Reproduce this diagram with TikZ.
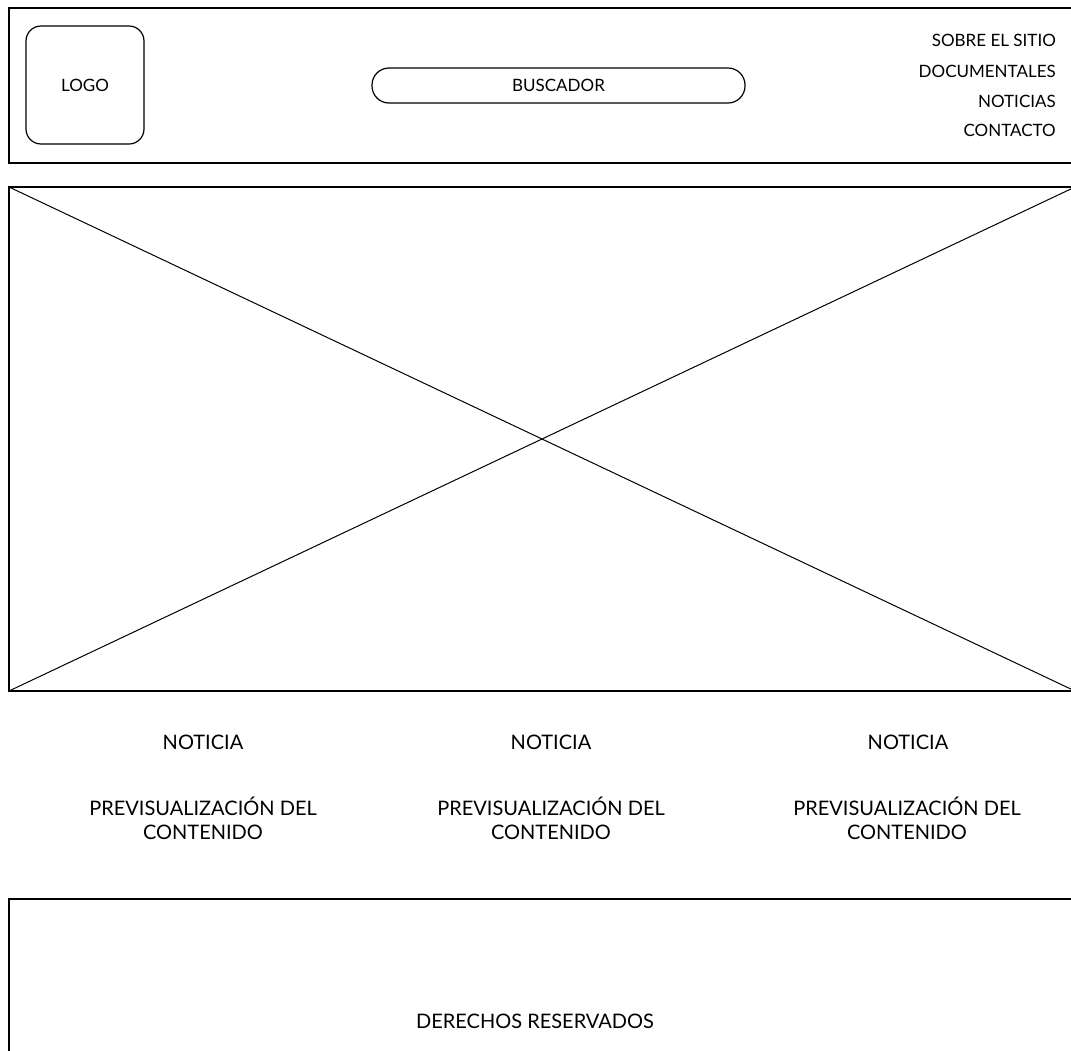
\documentclass[tikz,border=0pt]{standalone}
\usepackage{fontspec}
\setmainfont{Lato}
\usepackage{tikz}
\usetikzlibrary{positioning}

\begin{document}
\begin{tikzpicture}[x=1pt,y=-1pt]
        \useasboundingbox (0,0) rectangle (1071,1050);
        \begin{scope}[
            every node/.style={draw,line width=1.2pt,inner sep=0pt,outer sep=0pt,anchor=north west}
        ]
            \node[minimum width=1066pt,minimum height=155pt] (header) at (9,8) {};
            \node[minimum width=1066pt,minimum height=504pt] (hero) at (9,187) {};
            \node[minimum width=1066pt,minimum height=165pt] (footer) at (9,899) {};

            \node[rounded corners=15pt,minimum width=118pt,minimum height=118pt,font=\fontsize{17}{20}\selectfont] (logo) at (26,26) {LOGO};
            \node[rounded corners=17pt,minimum width=373pt,minimum height=35pt,font=\fontsize{17}{20}\selectfont] (buscador) at (372,68) {BUSCADOR};
        \end{scope}
        \begin{scope}[
            every node/.style={anchor=east,inner sep=0pt,font=\fontsize{17}{20}\selectfont}
        ]
            \node (sitio) at (1056,40) {SOBRE EL SITIO};
            \node (docs) at (1056,71) {DOCUMENTALES};
            \node (noticias) at (1056,101) {NOTICIAS};
            \node (contacto) at (1056,130) {CONTACTO};
        \end{scope}
        \begin{scope}[
            every node/.style={align=center,inner sep=0pt,font=\fontsize{20}{24}\selectfont}
        ]
            \node (n1) at (203,742) {NOTICIA};
            \node (n2) at (551,742) {NOTICIA};
            \node (n3) at (908,742) {NOTICIA};

            \node (p1) at (203,818) {PREVISUALIZACIÓN DEL\\CONTENIDO};
            \node (p2) at (551,818) {PREVISUALIZACIÓN DEL\\CONTENIDO};
            \node (p3) at (907,818) {PREVISUALIZACIÓN DEL\\CONTENIDO};

            \node (derechos) at (535,1021) {DERECHOS RESERVADOS};
        \end{scope}
        \begin{scope}[
            every edge/.style={draw=black,line width=1pt}
        ]
            \path [-] (hero.north west) edge (hero.south east);
            \path [-] (hero.south west) edge (hero.north east);
        \end{scope}
    \end{tikzpicture}
\end{document}
